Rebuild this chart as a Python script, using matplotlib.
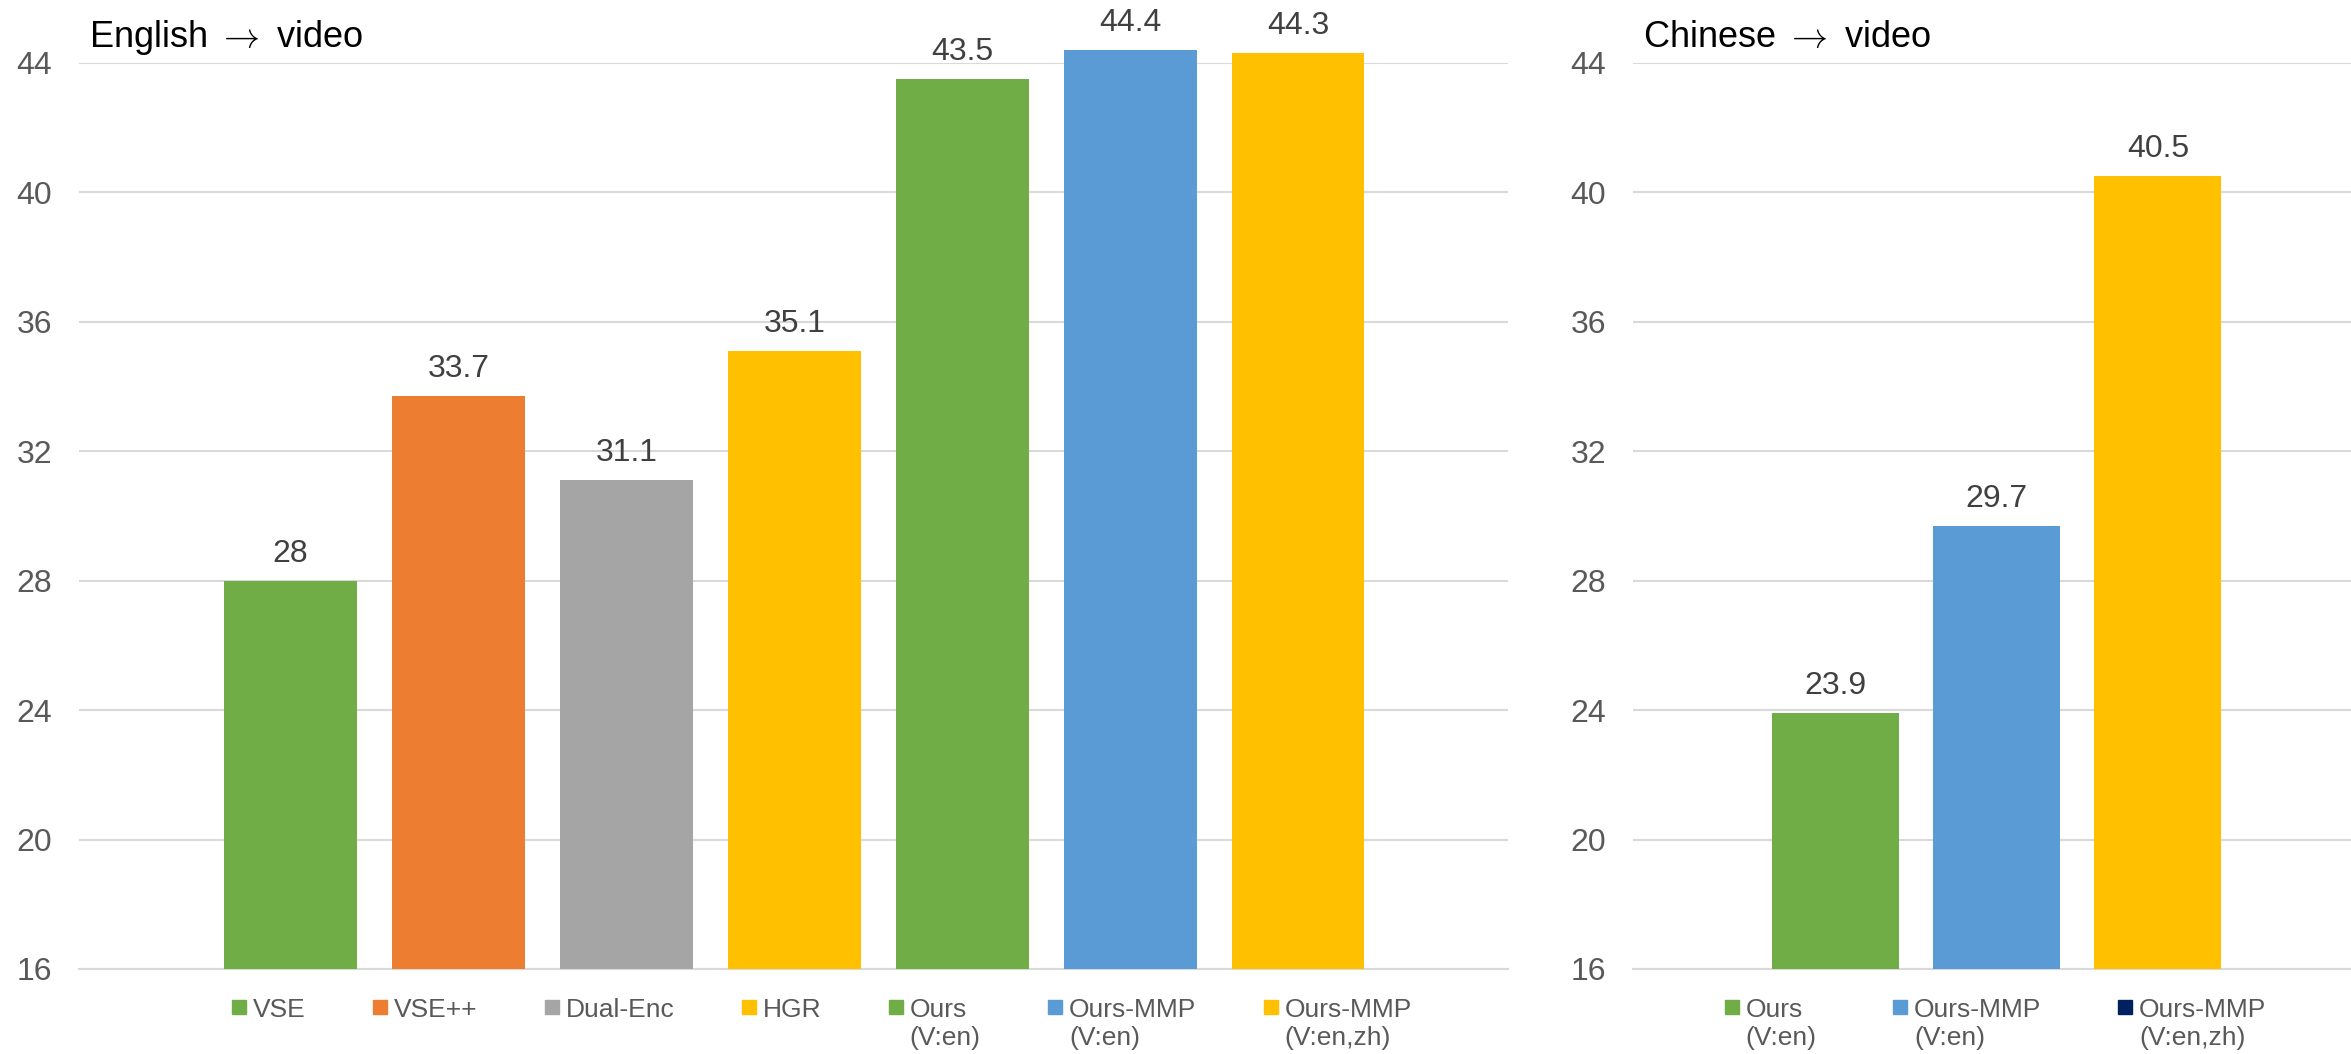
#!/usr/bin/env python3
"""
plot.py - text to video retrieval bars, English and Chinese queries
"""
import matplotlib
matplotlib.use('Agg')
import matplotlib.pyplot as plt
from matplotlib.lines import Line2D

# English -> video
enMethods = ['VSE', 'VSE++', 'Dual-Enc', 'HGR', 'Ours\n(V:en)', 'Ours-MMP\n(V:en)', 'Ours-MMP\n(V:en,zh)']
enScores  = [28, 33.7, 31.1, 35.1, 43.5, 44.4, 44.3]
enColors  = ['#70AD47', '#ED7D31', '#A5A5A5', '#FFC000', '#70AD47', '#5B9BD5', '#FFC000']

# Chinese -> video
zhMethods = ['Ours\n(V:en)', 'Ours-MMP\n(V:en)', 'Ours-MMP\n(V:en,zh)']
zhScores  = [23.9, 29.7, 40.5]
zhColors  = ['#70AD47', '#5B9BD5', '#FFC000']
zhLegendColors = ['#70AD47', '#5B9BD5', '#002060']  # legend square of the last one is navy in the original

yTicks = [16, 20, 24, 28, 32, 36, 40, 44]
yMin, yMax = 16, 44

plt.rcParams['font.family'] = ['Liberation Sans', 'DejaVu Sans']
plt.rcParams['mathtext.fontset'] = 'cm'   # thin arrow in the titles

W, H = 2351, 1054
DPI = 100

def drawPanel( ax, title, methods, scores, colors, legendColors, xlim, legendX, colSpacing ):
    x = list(range(len(scores)))
    # bars start at the axis floor; not clipped so the 44.x bars poke over the top gridline
    bars = ax.bar(x, [s - yMin for s in scores], bottom=yMin, width=0.79,
                  color=colors, zorder=3, clip_on=False)
    ax.set_xlim(*xlim)
    ax.set_ylim(yMin, yMax)
    ax.set_yticks(yTicks)
    ax.set_xticks([])
    ax.tick_params(axis='y', length=0, pad=19.5, labelsize=23, labelcolor='#595959')
    for s in ['top', 'left', 'right']:
        ax.spines[s].set_visible(False)
    ax.spines['bottom'].set_color('#D9D9D9')
    ax.spines['bottom'].set_linewidth(1.5)
    ax.grid(axis='y', color='#D9D9D9', linewidth=1.5, zorder=0)
    ax.set_axisbelow(True)

    # value labels on top of bars
    for b, v in zip(bars, scores):
        ax.annotate(f'{v:g}', xy=(b.get_x()+b.get_width()/2, v), xytext=(0, 13.7),
                    textcoords='offset points', ha='center', va='baseline',
                    fontsize=23, color='#404040', annotation_clip=False)

    ax.annotate(title, xy=(0, 1), xycoords='axes fraction', xytext=(7.2, 11.5),
                textcoords='offset points', ha='left', va='baseline',
                fontsize=26, color='black')

    # legend below the axis, one entry per bar
    handles = [Line2D([], [], marker='s', linestyle='none', markersize=10,
                      markerfacecolor=c, markeredgecolor=c) for c in legendColors]
    leg = ax.legend(handles, methods, loc='upper left', bbox_to_anchor=(legendX, -0.032),
                    ncol=len(methods), frameon=False, fontsize=19, borderpad=0,
                    borderaxespad=0, handlelength=0.75, handleheight=0.7,
                    handletextpad=0.15, columnspacing=colSpacing, labelcolor='#595959')
    # put the square next to the first line and line the entries up at the top
    leg._legend_handle_box.align = 'top'
    for col in leg._legend_handle_box.get_children():
        col.align = 'left'
        for item in col.get_children():
            item.align = 'top'
    return ax

fig = plt.figure(figsize=(W/DPI, H/DPI), dpi=DPI)
bottom = 1 - 969/H
height = (969-63)/H

axEn = fig.add_axes([79/W, bottom, (1508-79)/W, height])
drawPanel(axEn, r'English $\rightarrow$ video', enMethods, enScores, enColors, enColors,
          (-1.26, 7.25), (238-79)/(1508-79) - 0.0065, 2.45)

axZh = fig.add_axes([1633/W, bottom, (W-1633)/W, height])
drawPanel(axZh, r'Chinese $\rightarrow$ video', zhMethods, zhScores, zhColors, zhLegendColors,
          (-1.26, 3.2), (1729-1633)/(W-1633) - 0.010, 2.8)

fig.savefig('out.png', dpi=DPI)
